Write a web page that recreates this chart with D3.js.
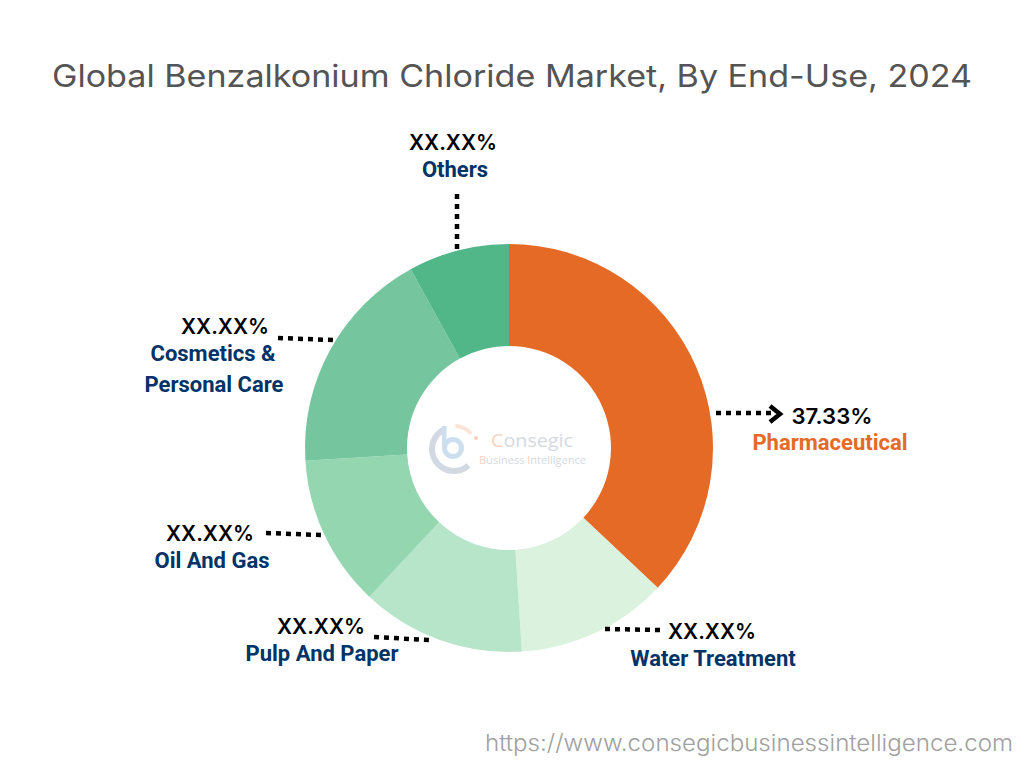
<!DOCTYPE html>
<html>
<head>
<meta charset="utf-8">
<script src="https://cdn.jsdelivr.net/npm/d3@7"></script>
<style>
  html, body { margin: 0; padding: 0; background: #fff; }
  svg { display: block; }
  text { font-family: "Inter", sans-serif; }
</style>
</head>
<body>
<svg id="donut" width="1024" height="768"></svg>
<script>
const categories = ["Pharmaceutical", "Water Treatment", "Pulp And Paper", "Oil And Gas", "Cosmetics & Personal Care", "Others"];
const shares = [37, 12, 13, 12, 18, 8];
const shareLabels = ["37.33%", "XX.XX%", "XX.XX%", "XX.XX%", "XX.XX%", "XX.XX%"];

const sliceColors = ["#E46A26", "#DAF2DE", "#B7E5C9", "#94D6AF", "#75C69E", "#52B788"];

const svg = d3.select("#donut");
const cx = 509, cy = 448;
const outerR = 204, innerR = 102;

// Title
svg.append("text")
  .attr("x", 512)
  .attr("y", 87)
  .attr("text-anchor", "middle")
  .attr("textLength", 920)
  .attr("lengthAdjust", "spacingAndGlyphs")
  .style("font-size", "31px")
  .attr("fill", "#545454")
  .text("Global Benzalkonium Chloride Market, By End-Use, 2024");

// Slices
const pie = d3.pie().sort(null).value(d => d.share);
const arc = d3.arc().innerRadius(innerR).outerRadius(outerR);
const table = categories.map((c, i) => ({ name: c, share: shares[i], label: shareLabels[i], color: sliceColors[i] }));

svg.append("g")
  .attr("transform", `translate(${cx},${cy})`)
  .selectAll("path")
  .data(pie(table))
  .join("path")
  .attr("d", arc)
  .attr("fill", d => d.data.color);

// Label layout, one entry per slice in the same order as categories
const layout = [
  { line: [716, 413, 776, 413], pct: [832, 424], name: [["Pharmaceutical", 830, 450]], color: "#E46A26" },
  { line: [605, 629, 660, 630], pct: [712, 639], name: [["Water Treatment", 713, 666]] },
  { line: [374, 637, 429, 640], pct: [321, 634], name: [["Pulp And Paper", 322, 661]] },
  { line: [266, 533, 321, 535], pct: [210, 541], name: [["Oil And Gas", 212, 568]] },
  { line: [278, 338, 333, 340], pct: [225, 334], name: [["Cosmetics &", 213, 361], ["Personal Care", 214, 392]] },
  { line: [457, 194, 457, 249], pct: [453, 150], name: [["Others", 455, 177]] }
];

const labels = svg.append("g");
layout.forEach((l, i) => {
  labels.append("line")
    .attr("x1", l.line[0]).attr("y1", l.line[1])
    .attr("x2", l.line[2]).attr("y2", l.line[3])
    .attr("stroke", "#000")
    .attr("stroke-width", 4.5)
    .attr("stroke-dasharray", "5,5");

  labels.append("text")
    .attr("x", l.pct[0]).attr("y", l.pct[1])
    .attr("text-anchor", "middle")
    .style("font-size", "21.5px")
    .style("font-weight", 600)
    .attr("fill", "#000")
    .attr("textLength", i === 0 ? 81 : 88)
    .attr("lengthAdjust", "spacingAndGlyphs")
    .text(table[i].label);

  l.name.forEach(n => {
    labels.append("text")
      .attr("x", n[1]).attr("y", n[2])
      .attr("text-anchor", "middle")
      .style("font-family", "Roboto, sans-serif")
      .style("font-size", "22px")
      .style("font-weight", 700)
      .attr("fill", l.color || "#003366")
      .text(n[0]);
  });
});

// Arrow head on the Pharmaceutical leader
labels.append("path")
  .attr("d", "M770,406 L780,414 L770,422")
  .attr("fill", "none")
  .attr("stroke", "#000")
  .attr("stroke-width", 4.5);

// Watermark logo in the hole
const logo = svg.append("g").attr("opacity", 0.3);
const logoArc = d3.arc();
logo.append("path")
  .attr("transform", "translate(454,449)")
  .attr("d", logoArc({ innerRadius: 19, outerRadius: 25, startAngle: Math.PI * 0.77, endAngle: Math.PI * 1.86 }))
  .attr("fill", "#6E83A5");
logo.append("path")
  .attr("transform", "translate(454,449)")
  .attr("d", logoArc({ innerRadius: 21, outerRadius: 25, startAngle: Math.PI * 0.02, endAngle: Math.PI * 0.27 }))
  .attr("fill", "#F2A77C");
logo.append("circle").attr("cx", 476).attr("cy", 438).attr("r", 2).attr("fill", "#E46A26");
logo.append("circle").attr("cx", 453).attr("cy", 448).attr("r", 8.5)
  .attr("fill", "none").attr("stroke", "#5E97C9").attr("stroke-width", 5);
logo.append("rect").attr("x", 442).attr("y", 426).attr("width", 4.5).attr("height", 22).attr("fill", "#5E97C9");

logo.append("text").attr("x", 491).attr("y", 447)
  .style("font-family", "'Open Sans', sans-serif").style("font-size", "18px")
  .attr("textLength", 82)
  .attr("lengthAdjust", "spacingAndGlyphs")
  .attr("fill", "#6E83A5")
  .html('<tspan fill="#E46A26">C</tspan>onsegic');
logo.append("text").attr("x", 479).attr("y", 464)
  .style("font-family", "'Open Sans', sans-serif").style("font-size", "10px")
  .attr("textLength", 107)
  .attr("lengthAdjust", "spacingAndGlyphs")
  .attr("fill", "#6E83A5")
  .html('<tspan fill="#E46A26">B</tspan>usiness <tspan fill="#E46A26">I</tspan>ntelligence');

// Source url
svg.append("text")
  .attr("x", 1013)
  .attr("y", 751)
  .attr("text-anchor", "end")
  .attr("textLength", 528)
  .attr("lengthAdjust", "spacingAndGlyphs")
  .style("font-size", "23px")
  .style("font-weight", 300)
  .attr("fill", "#A0A0A0")
  .text("https://www.consegicbusinessintelligence.com");
</script>
</body>
</html>
